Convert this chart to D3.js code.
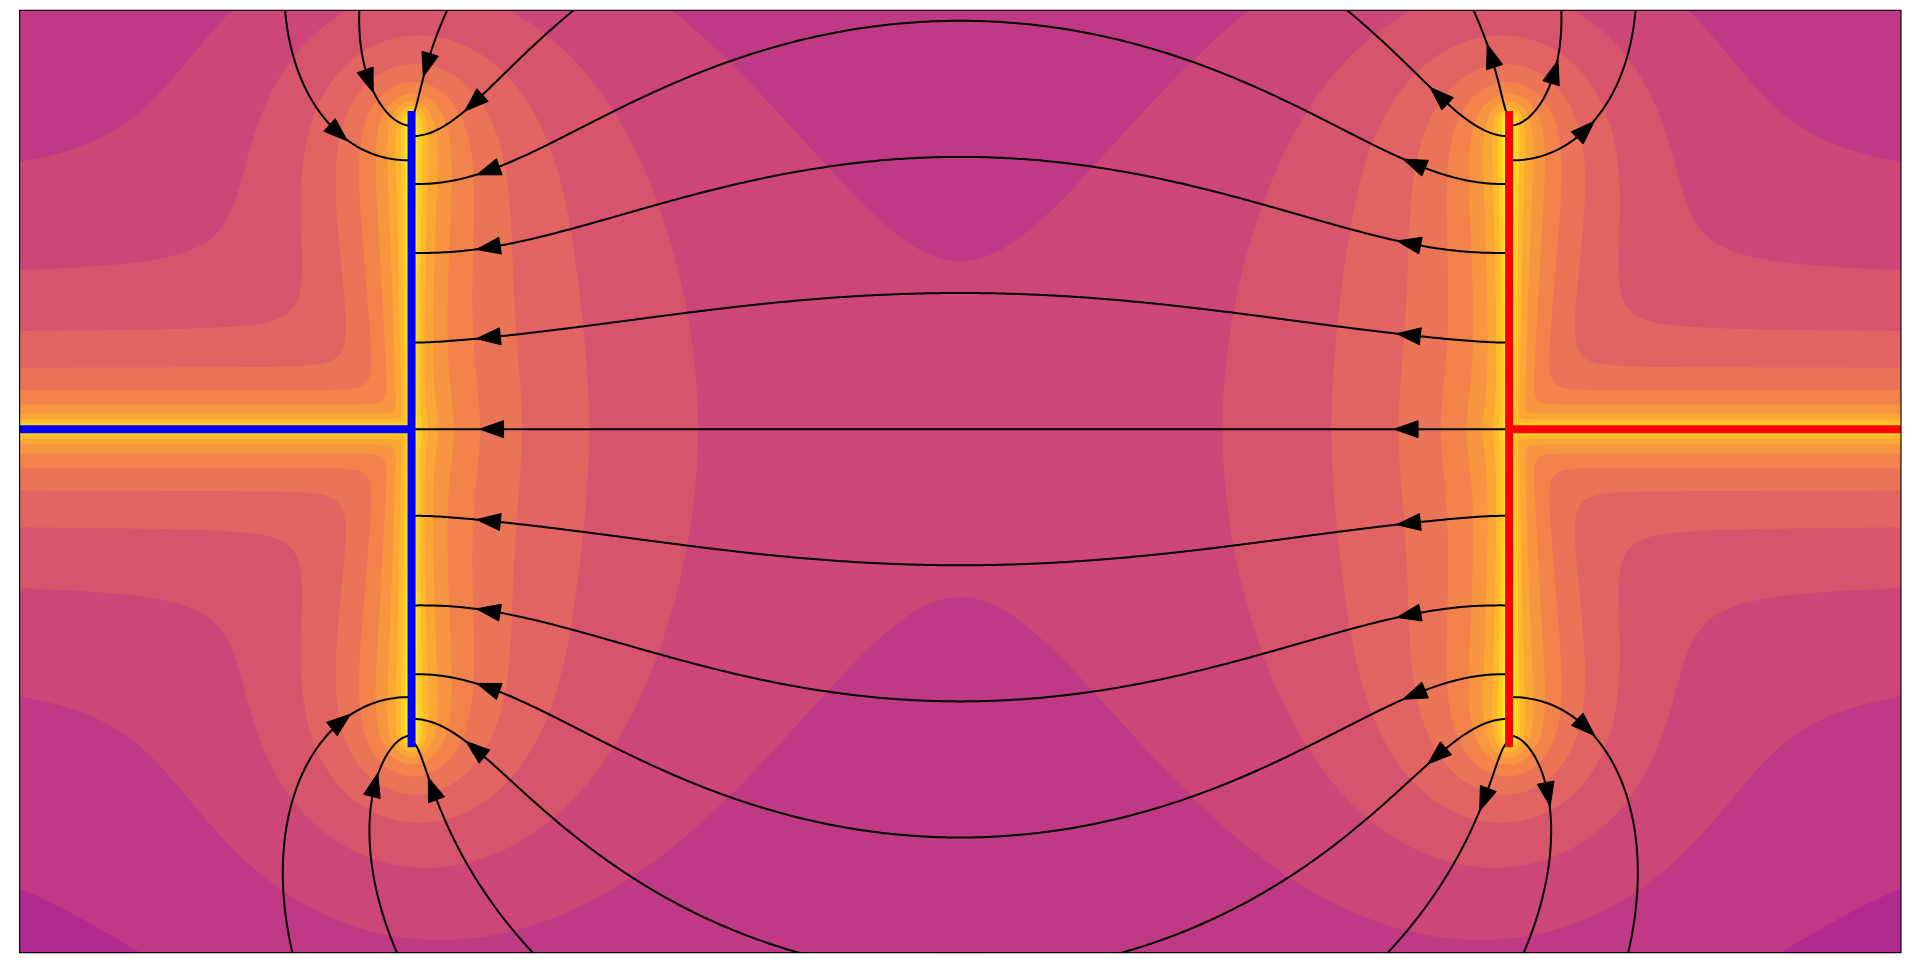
<!DOCTYPE html>
<html><head><meta charset="utf-8">
<script src="https://cdn.jsdelivr.net/npm/d3@7"></script>
<style>html,body{margin:0;padding:0;background:#fff;}svg{display:block;}</style>
</head><body>
<svg id="chart" width="1920" height="963"></svg>
<script>
// ---------------- data ----------------
const viewX = [-9, 9];                 // visible x range
const viewY = [-5, 4];                 // visible y range
const plateX = [-5.25, 5.25];          // negative (blue) and positive (red) plate positions
const plateSpan = [-3, 3];             // vertical extent of each plate
const wireY = 0;                       // feed wires run from each plate outwards
const conductorSign = [-1, 1];
const conductorColor = ["#0000ff", "#ff0000"];
const plateChargeRatio = 1.2;          // plate line-charge density relative to wire
const plateEdgeBoost = 0.6;            // extra charge toward plate ends
// one point read off each field line of the reference
const seedX = [0, 0, 0, 0, 0, 0, 0, -3.70, -4.91, -5.75, -6.46, -1.544, -4.09, -5.39, -6.39];
const seedY = [-3.9, -2.6, -1.3, 0, 1.3, 2.6, 3.9, 4, 4, 4, 4, -5, -5, -5, -5];
// arrow positions: distance (px, along the line) from the blue and from the red end
const arrowFromBlue = [78, 77, 77, 80, 77, 77, 78, 72, 53, 65, 80, 72, 52, 65, 76];
const arrowFromRed  = [98, 101, 101, 103, 101, 101, 98, 83, 63, 75, 85, 83, 64, 75, 85];
const levelOffset = -0.265;            // log10|E| of the band-9 lower level
const levelStep = 0.2;                 // log10 spacing of contour levels
const bandColorPos = [0.00,0.05,0.10,0.15,0.20,0.25,0.30,0.35,0.40,0.45,0.50,0.55,0.60,0.65,0.70,0.75,0.80,0.85,0.90,0.95,1.00];

// ---------------- field of uniformly charged straight segments ----------------
const geom = [];
for (let c = 0; c < 2; c++) {
  geom.push({ax: plateX[c], ay: plateSpan[0], ux: 0, uy: 1, L: plateSpan[1] - plateSpan[0]});
  geom.push({ax: plateX[c], ay: wireY, ux: plateX[c] < 0 ? -1 : 1, uy: 0, L: Infinity});
}
const segs = [];
(function () {
  const Np = 40, hp = (plateSpan[1] - plateSpan[0]) / Np, hl = (plateSpan[1] - plateSpan[0]) / 2, mid = (plateSpan[0] + plateSpan[1]) / 2;
  for (let c = 0; c < 2; c++) {
    for (let i = 0; i < Np; i++) {
      const t = (plateSpan[0] + (i + 0.5) * hp - mid) / hl;
      segs.push({ax: plateX[c], ay: plateSpan[0] + i * hp, ux: 0, uy: 1, L: hp,
                 lam: conductorSign[c] * plateChargeRatio * (1 + plateEdgeBoost * t * t)});
    }
    segs.push({ax: plateX[c], ay: wireY, ux: plateX[c] < 0 ? -1 : 1, uy: 0, L: Infinity, lam: conductorSign[c]});
  }
})();
function field(x, y) {
  let ex = 0, ey = 0;
  for (let k = 0; k < segs.length; k++) {
    const s = segs[k];
    const dx = x - s.ax, dy = y - s.ay;
    const a = dx * s.ux + dy * s.uy;
    let d = -dx * s.uy + dy * s.ux;
    if (Math.abs(d) < 1e-9) d = d < 0 ? -1e-9 : 1e-9;
    const r0 = Math.sqrt(a * a + d * d);
    let eu, ed;
    if (s.L === Infinity) {
      eu = -1 / r0;
      ed = a >= 0 ? (a / r0 + 1) / d : d / (r0 * (r0 - a));
    } else {
      const b = a - s.L, r1 = Math.sqrt(b * b + d * d);
      eu = 1 / r1 - 1 / r0;
      ed = (a / r0 - b / r1) / d;
    }
    ex += s.lam * (eu * s.ux - ed * s.uy);
    ey += s.lam * (eu * s.uy + ed * s.ux);
  }
  return [ex, ey];
}
function segDist(s, x, y) {
  const dx = x - s.ax, dy = y - s.ay;
  const a = dx * s.ux + dy * s.uy, d = -dx * s.uy + dy * s.ux;
  if (a < 0) return Math.hypot(a, d);
  if (a > s.L) return Math.hypot(a - s.L, d);
  return Math.abs(d);
}
function traceHalf(x0, y0, sgn) {
  const pts = [[x0, y0]];
  let x = x0, y = y0, hit = null;
  const dirAt = (px, py) => { const e = field(px, py); const m = Math.hypot(e[0], e[1]) || 1; return [sgn * e[0] / m, sgn * e[1] / m]; };
  for (let it = 0; it < 20000; it++) {
    let dmin = Infinity, smin = null;
    for (const s of geom) { const dd = segDist(s, x, y); if (dd < dmin) { dmin = dd; smin = s; } }
    if (dmin < 0.008) { hit = smin; break; }
    if (Math.abs(x) > 40 || Math.abs(y) > 40) break;
    const h = Math.max(0.001, Math.min(0.03, 0.3 * dmin));
    const k1 = dirAt(x, y);
    const k2 = dirAt(x + 0.5 * h * k1[0], y + 0.5 * h * k1[1]);
    const k3 = dirAt(x + 0.5 * h * k2[0], y + 0.5 * h * k2[1]);
    const k4 = dirAt(x + h * k3[0], y + h * k3[1]);
    x += h * (k1[0] + 2 * k2[0] + 2 * k3[0] + k4[0]) / 6;
    y += h * (k1[1] + 2 * k2[1] + 2 * k3[1] + k4[1]) / 6;
    pts.push([x, y]);
  }
  if (hit) {
    const dx = x - hit.ax, dy = y - hit.ay;
    const a = Math.max(0, Math.min(hit.L, dx * hit.ux + dy * hit.uy));
    pts.push([hit.ax + a * hit.ux, hit.ay + a * hit.uy]);
  }
  return pts;
}

// ---------------- drawing ----------------
const svg = d3.select("#chart");
const xScale = d3.scaleLinear().domain(viewX).range([19.6, 1901]);
const yScale = d3.scaleLinear().domain([viewY[1], viewY[0]]).range([10.3, 952.7]);
const fx = xScale(viewX[0]), fy = yScale(viewY[1]);
const fw = xScale(viewX[1]) - fx, fh = yScale(viewY[0]) - fy;
svg.append("defs").append("clipPath").attr("id", "frame").append("rect")
  .attr("x", fx).attr("y", fy).attr("width", fw).attr("height", fh);

// log10|E| on a grid (mirror-symmetric in x)
const nx = 941, ny = 472;
const hx = (viewX[1] - viewX[0]) / (nx - 1), hy = (viewY[1] - viewY[0]) / (ny - 1);
const values = new Float64Array(nx * ny);
const halfI = (nx - 1) / 2;
for (let j = 0; j < ny; j++) {
  const uy = viewY[1] - j * hy;
  for (let i = 0; i <= halfI; i++) {
    const e = field(viewX[0] + i * hx, uy);
    let v = Math.log10(Math.hypot(e[0], e[1]));
    if (!isFinite(v)) v = 10;
    v = Math.min(10, v);
    values[i + j * nx] = v; values[(nx - 1 - i) + j * nx] = v;
  }
}
const thresholds = bandColorPos.slice(1).map((_, k) => levelOffset + levelStep * (k + 1 - 9));
const contours = d3.contours().size([nx, ny]).thresholds(thresholds)(values);
const proj = d3.geoTransform({point: function (gx, gy) {
  this.stream.point(xScale(viewX[0] + (gx - 0.5) * hx), yScale(viewY[1] - (gy - 0.5) * hy));
}});
const gpath = d3.geoPath(proj);
const plot = svg.append("g").attr("clip-path", "url(#frame)");
plot.append("rect").attr("x", fx).attr("y", fy).attr("width", fw).attr("height", fh)
  .attr("fill", d3.interpolatePlasma(bandColorPos[0]));
plot.append("g").selectAll("path").data(contours).join("path")
  .attr("d", gpath).attr("fill", (d, i) => d3.interpolatePlasma(bandColorPos[i + 1]));

// field lines with arrows
const line = d3.line().x(p => xScale(p[0])).y(p => yScale(p[1]));
const lg = plot.append("g");
seedX.forEach((sx, li) => {
  const sy = seedY[li];
  const toRed = traceHalf(sx, sy, -1), toBlue = traceHalf(sx, sy, 1);
  const pts = toRed.slice().reverse().concat(toBlue.slice(1));
  lg.append("path").attr("d", line(pts)).attr("fill", "none").attr("stroke", "#000").attr("stroke-width", 2);
  const px = pts.map(p => [xScale(p[0]), yScale(p[1])]);
  const cum = [0];
  for (let i = 1; i < px.length; i++) cum.push(cum[i - 1] + Math.hypot(px[i][0] - px[i - 1][0], px[i][1] - px[i - 1][1]));
  const total = cum[cum.length - 1];
  const at = s => {
    let i = d3.bisectLeft(cum, s); i = Math.max(1, Math.min(px.length - 1, i));
    const t = (s - cum[i - 1]) / ((cum[i] - cum[i - 1]) || 1);
    const p = [px[i - 1][0] + t * (px[i][0] - px[i - 1][0]), px[i - 1][1] + t * (px[i][1] - px[i - 1][1])];
    const a = Math.max(0, i - 4), b = Math.min(px.length - 1, i + 3);
    const tx = px[b][0] - px[a][0], ty = px[b][1] - px[a][1], m = Math.hypot(tx, ty) || 1;
    return [p, [tx / m, ty / m]];
  };
  [total - arrowFromBlue[li], arrowFromRed[li]].forEach(s => {
    if (s <= 0 || s >= total) return;
    const [c, t] = at(s), n = [-t[1], t[0]];
    const tip = [c[0] + 12 * t[0], c[1] + 12 * t[1]];
    const b1 = [c[0] - 12 * t[0] + 8.5 * n[0], c[1] - 12 * t[1] + 8.5 * n[1]];
    const b2 = [c[0] - 12 * t[0] - 8.5 * n[0], c[1] - 12 * t[1] - 8.5 * n[1]];
    lg.append("path").attr("d", `M${tip}L${b1}L${b2}Z`).attr("fill", "#000").attr("stroke", "#000").attr("stroke-width", 1);
  });
});

// conductors
const cg = plot.append("g");
for (let c = 0; c < 2; c++) {
  const out = plateX[c] < 0 ? viewX[0] - 1 : viewX[1] + 1;
  cg.append("line").attr("x1", xScale(plateX[c])).attr("x2", xScale(out)).attr("y1", yScale(wireY)).attr("y2", yScale(wireY))
    .attr("stroke", conductorColor[c]).attr("stroke-width", 8);
  cg.append("line").attr("x1", xScale(plateX[c])).attr("x2", xScale(plateX[c])).attr("y1", yScale(plateSpan[0])).attr("y2", yScale(plateSpan[1]))
    .attr("stroke", conductorColor[c]).attr("stroke-width", 8).attr("stroke-linecap", "square");
}
svg.append("rect").attr("x", fx).attr("y", fy).attr("width", fw).attr("height", fh)
  .attr("fill", "none").attr("stroke", "#000").attr("stroke-width", 1.1);
</script>
</body></html>
